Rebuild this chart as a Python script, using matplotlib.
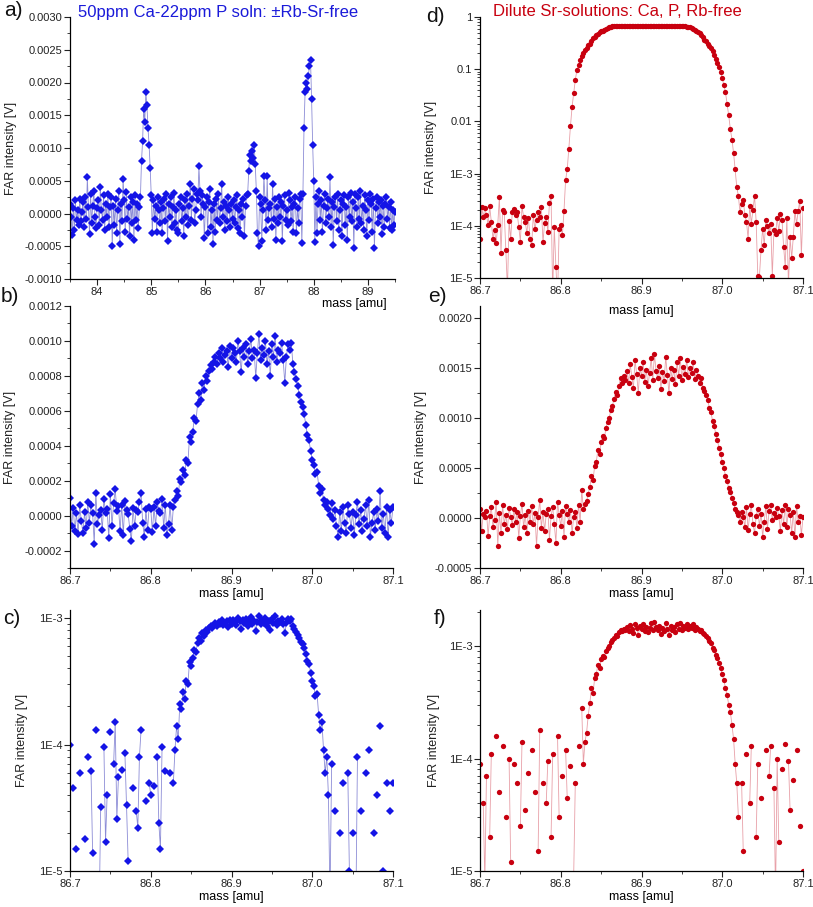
import numpy as np
import matplotlib
matplotlib.use('Agg')
from matplotlib import pyplot as plt
from matplotlib.ticker import MultipleLocator, FormatStrFormatter, LogLocator, NullFormatter, FuncFormatter

plt.rcParams['font.family'] = ['Liberation Sans', 'DejaVu Sans']

# panel a: wide scan 83.5 - 89.5 amu, step 0.02 amu, FAR intensity in 1e-5 V
scan_a_start, scan_a_step = 83.5, 0.02
scan_a = [
    15, -5, -33, 8, -25, 20, -10, 5, -18, 22,
    -12, 3, 18, -20, 25, -8, 55, 10, -32, 30,
    -15, 12, 35, -5, -22, 8, 20, -18, 40, 5,
    -10, 28, -25, 15, -5, 30, -20, 10, 25, -50,
    12, -18, 22, -30, 5, 35, -46, 15, -12, 53,
    20, -28, 33, -8, 10, -35, 25, -15, 18, -40,
    28, -10, 15, -22, 10, 25, 80, 110, 160, 140,
    185, 165, 130, 105, 70, 28, -30, 20, -8, 12,
    -28, 25, 5, -15, 18, -30, 8, 22, -12, 30,
    -42, 15, -5, 25, -20, 10, 32, -15, 5, -25,
    -30, 15, 25, -12, 8, -35, 20, -5, 30, -18,
    12, 45, -10, 22, 38, -15, 5, 30, 20, 72,
    35, -5, 28, 15, -38, 10, 25, -30, 18, 38,
    -20, 5, -46, 15, -28, 22, -10, 30, -15, 8,
    45, -5, 18, -25, 12, -12, 25, 5, -20, 15,
    -8, 20, -15, 10, 28, -22, 5, -30, 15, -5,
    22, -35, 12, 28, 30, 65, 90, 80, 95, 85,
    105, 75, 35, -30, -50, 25, 15, -42, 5, 58,
    20, -25, 57, -10, 8, 15, -20, 45, -8, 22,
    -40, 10, -15, 25, -5, 18, -42, 12, 28, -10,
    5, -18, 32, 20, -12, 10, -28, 15, 25, -30,
    8, -15, 22, 30, -45, 30, 130, 185, 200, 190,
    210, 225, 235, 175, 105, 50, -43, 25, -30, 15,
    35, -10, 20, -28, 12, 30, -15, 8, 22, -5,
    56, -20, 18, -48, 10, 25, -12, 30, -25, 5,
    20, -35, 15, 28, -18, 10, -40, 25, -5, 32,
    -12, 18, -52, 30, 8, -20, 25, -8, 35, -15,
    12, -25, 28, 5, -35, 20, -10, 30, 15, -28,
    22, -52, 8, 25, -15, 18, -5, 20, -32, 12,
    -20, 15, 25, -8, 10, -22, 18, -25, 5, -18,
    3,
]

# panels b/c (blue) and e/f (red): narrow scans 86.7 - 87.1 amu, step 0.002 amu, in 1e-6 V
scan_narrow_start, scan_narrow_step = 86.7, 0.002
scan_blue = [
    100, -60, 45, -90, 15, -105, 60, -30, -100, 18,
    -70, 80, -40, 62, 14, -160, 130, -50, 4, 32,
    -80, 95, 17, 40, -130, 125, -60, 70, 150, 26,
    55, -90, 63, -110, 85, 33, 12, -75, -145, 45,
    -60, 30, 22, 80, 130, -40, -120, 36, -85, 50,
    40, -95, 47, -60, 80, 24, 15, 96, -70, 62,
    -110, -50, 60, -80, 50, 90, 140, 110, 210, 190,
    260, 230, 320, 300, 450, 420, 480, 560, 540, 640,
    700, 660, 760, 720, 800, 770, 830, 860, 840, 880,
    910, 870, 930, 900, 960, 880, 920, 940, 850, 970,
    900, 960, 930, 880, 1000, 940, 820, 960, 910, 980,
    870, 940, 1010, 900, 950, 790, 930, 1040, 890, 960,
    920, 1000, 870, 940, 800, 980, 910, 1030, 880, 950,
    930, 990, 890, 760, 910, 980, 950, 990, 870, 820,
    780, 740, 690, 650, 620, 580, 520, 460, 430, 370,
    320, 290, 240, 250, 170, 130, 150, 90, 60, 80,
    40, 6, 70, -20, 30, -60, -120, 20, -90, 50,
    -40, -100, 60, 10, -70, 20, -110, 5, 80, -50,
    30, -90, -20, 60, -60, 90, -120, -40, 20, -80,
    40, -30, 140, -70, 10, -100, 50, -120, 30, -40,
    50,
]
scan_red = [
    90, -130, 40, 8, 70, -180, 20, 110, -90, -20,
    160, -280, 50, -150, 130, -60, 30, -110, 100, 12,
    -70, 90, -40, 60, -200, 25, 140, -90, 35, -150,
    75, -40, 120, -60, 50, -280, 15, 180, -100, 60,
    -130, 40, 95, -220, 20, 110, -60, -250, 160, 30,
    -80, 70, -190, 120, 45, -40, 85, -150, 9, 60,
    -100, 130, -40, 280, 90, 140, 170, 240, 310, 420,
    380, 520, 560, 680, 640, 760, 820, 800, 900, 960,
    1000, 1080, 1120, 1190, 1260, 1230, 1320, 1400, 1350, 1420,
    1380, 1470, 1350, 1540, 1410, 1300, 1580, 1440, 1250, 1500,
    1420, 1560, 1360, 1480, 1320, 1450, 1600, 1380, 1640, 1470,
    1400, 1520, 1290, 1460, 1370, 1610, 1430, 1250, 1500, 1390,
    1480, 1340, 1560, 1420, 1600, 1380, 1510, 1440, 1580, 1410,
    1500, 1450, 1560, 1390, 1480, 1420, 1350, 1400, 1300, 1270,
    1230, 1180, 1100, 1060, 970, 920, 840, 780, 700, 640,
    560, 500, 420, 370, 300, 260, 200, 150, 90, 60,
    30, -40, 60, 15, -90, 110, -120, 40, 130, -60,
    -150, 20, 90, -80, 45, -190, -40, 120, -110, 70,
    130, -20, 55, 6, 100, 18, -130, 80, -60, 135,
    -90, 95, 35, -150, 65, -190, 120, -40, 25, -170,
    10,
]

# panel d: dilute Sr solution, same narrow scan, in V
scan_d = [
    5.6e-5, 2.3e-4, 1.5e-4, 2.2e-4, 1.6e-4, 1.05e-4, 2.35e-4, 1.2e-4, 5.7e-5, 8.3e-5,
    4.6e-5, 1.05e-4, 3.6e-4, 3.0e-5, 2.0e-4, 1.85e-4, 3.4e-5, 6e-6, 1.25e-4, 5.6e-5,
    1.85e-4, 2.1e-4, 1.6e-4, 1.8e-4, 9.6e-5, 5.0e-5, 2.35e-4, 1.5e-4, 1.2e-4, 7.3e-5,
    1.4e-4, 5.5e-5, 4.3e-5, 1.6e-4, 8.6e-5, 1.3e-4, 1.85e-4, 1.5e-4, 2.3e-4, 4.8e-5,
    1.15e-4, 1.5e-4, 7.7e-5, 2.7e-4, 3.7e-4, 5e-6, 9.5e-5, 1.6e-5, 4e-6, 8.6e-5,
    1.05e-4, 6.6e-5, 1.9e-4, 7.5e-4, 1.2e-3, 3.0e-3, 8.0e-3, 1.9e-2, 3.5e-2, 6.2e-2,
    0.096, 0.12, 0.15, 0.18, 0.2, 0.23, 0.26, 0.29, 0.31, 0.35,
    0.39, 0.42, 0.45, 0.48, 0.51, 0.53, 0.55, 0.57, 0.59, 0.62,
    0.64, 0.65, 0.66, 0.665, 0.67, 0.672, 0.668, 0.674, 0.67, 0.676,
    0.671, 0.675, 0.669, 0.673, 0.677, 0.67, 0.674, 0.672, 0.676, 0.671,
    0.674, 0.678, 0.672, 0.675, 0.67, 0.676, 0.673, 0.677, 0.671, 0.675,
    0.672, 0.676, 0.674, 0.67, 0.677, 0.673, 0.675, 0.671, 0.674, 0.676,
    0.673, 0.67, 0.675, 0.672, 0.668, 0.671, 0.665, 0.66, 0.655, 0.645,
    0.63, 0.61, 0.59, 0.57, 0.55, 0.52, 0.49, 0.45, 0.41, 0.37,
    0.34, 0.31, 0.28, 0.25, 0.22, 0.19, 0.16, 0.13, 0.11, 0.088,
    0.068, 0.05, 0.036, 0.022, 0.013, 0.0072, 0.0045, 0.0025, 0.0012, 5.5e-4,
    3.7e-4, 1.8e-4, 2.6e-4, 3.1e-4, 1.6e-4, 1.2e-4, 5.7e-5, 2.4e-4, 1.1e-4, 2.0e-4,
    3.7e-4, 1.2e-4, 1.1e-5, 1.05e-5, 3.4e-5, 8.8e-5, 4.3e-5, 1.3e-4, 1.0e-4, 7.3e-5,
    1.1e-4, 1.1e-5, 8.3e-5, 7.1e-5, 1.4e-4, 8.0e-5, 1.7e-4, 1.3e-4, 4.0e-5, 1.65e-5,
    1.4e-4, 7e-6, 6.0e-5, 2.4e-5, 6.2e-5, 1.9e-4, 1.1e-4, 1.9e-4, 3.0e-4, 2.7e-5,
    2.2e-4,
]

title_left = '50ppm Ca-22ppm P soln: \u00b1Rb-Sr-free'
title_right = 'Dilute Sr-solutions: Ca, P, Rb-free'

BLUE, BLUE_LINE = '#1414e6', '#8c8cd6'
RED, RED_LINE = '#c8000f', '#e8a0a8'

a_mass = scan_a_start + scan_a_step * np.arange(len(scan_a))
a_int = np.array(scan_a) * 1e-5
n_mass = scan_narrow_start + scan_narrow_step * np.arange(len(scan_blue))
blue_int = np.array(scan_blue) * 1e-6
red_int = np.array(scan_red) * 1e-6
d_int = np.array(scan_d)

W, H = 813, 907
fig = plt.figure(figsize=(W / 100, H / 100), dpi=100)


def add_ax(left, top, right, bottom):
    # pixel box -> figure fraction, transparent so labels of the panel above stay visible
    ax = fig.add_axes([left / W, 1 - bottom / H, (right - left) / W, (bottom - top) / H])
    ax.patch.set_visible(False)
    return ax


def style(ax, ylab_x):
    for s in ['top', 'right']:
        ax.spines[s].set_visible(False)
    for s in ['left', 'bottom']:
        ax.spines[s].set_linewidth(0.9)
    ax.tick_params(which='both', direction='out', labelsize=8, colors='#222222', pad=1.5)
    ax.tick_params(which='major', length=4, width=0.8)
    ax.tick_params(which='minor', length=2.5, width=0.6)
    ax.set_ylabel('FAR intensity [V]', fontsize=9, color='#222222')
    ax.yaxis.set_label_coords(ylab_x, 0.5)


def narrow_x(ax):
    ax.set_xlim(86.7, 87.1)
    ax.xaxis.set_major_locator(MultipleLocator(0.1))
    ax.xaxis.set_minor_locator(MultipleLocator(0.05))
    ax.xaxis.set_major_formatter(FormatStrFormatter('%.1f'))


def log_label(v, pos):
    if v >= 0.01:
        return '%g' % v
    return '1E%d' % round(np.log10(v))


def log_y(ax, lo, hi):
    ax.set_yscale('log', nonpositive='mask')
    ax.set_ylim(lo, hi)
    ax.yaxis.set_major_locator(LogLocator(base=10))
    ax.yaxis.set_minor_locator(LogLocator(base=10, subs=np.arange(2, 10)))
    ax.yaxis.set_major_formatter(FuncFormatter(log_label))
    ax.yaxis.set_minor_formatter(NullFormatter())


def draw(ax, x, y, color, line, marker, ms):
    ax.plot(x, y, color=line, lw=0.6, marker=marker, ms=ms, mfc=color, mec=color, mew=0)


# a) wide scan
ax = add_ax(70, 17, 395, 279)
draw(ax, a_mass, a_int, BLUE, BLUE_LINE, 'D', 4.5)
ax.set_xlim(83.5, 89.5)
ax.set_ylim(-0.001, 0.003)
ax.xaxis.set_major_locator(MultipleLocator(1))
ax.xaxis.set_minor_locator(MultipleLocator(0.5))
ax.yaxis.set_major_locator(MultipleLocator(0.0005))
ax.yaxis.set_minor_locator(MultipleLocator(0.00025))
ax.yaxis.set_major_formatter(FormatStrFormatter('%.4f'))
style(ax, -0.163)
ax.set_xlabel('mass [amu]', fontsize=9, loc='right')
ax.xaxis.set_label_coords(0.975, -0.072)

# b) blue narrow scan, linear
ax = add_ax(70, 306, 393, 568)
draw(ax, n_mass, blue_int, BLUE, BLUE_LINE, 'D', 4.5)
narrow_x(ax)
ax.set_ylim(-0.0003, 0.0012)
ax.yaxis.set_major_locator(MultipleLocator(0.0002))
ax.yaxis.set_minor_locator(MultipleLocator(0.0001))
ax.yaxis.set_major_formatter(FormatStrFormatter('%.4f'))
style(ax, -0.168)
ax.set_xlabel('mass [amu]', fontsize=9, labelpad=2)

# c) blue narrow scan, log
ax = add_ax(70, 610, 393, 871)
draw(ax, n_mass, blue_int, BLUE, BLUE_LINE, 'D', 4.5)
narrow_x(ax)
log_y(ax, 1e-5, 1.157e-3)
style(ax, -0.13)
ax.set_xlabel('mass [amu]', fontsize=9, labelpad=2)

# d) dilute Sr, log
ax = add_ax(480, 17, 803, 278)
draw(ax, n_mass, d_int, RED, RED_LINE, 'o', 3.8)
narrow_x(ax)
log_y(ax, 1e-5, 1.0)
style(ax, -0.133)
ax.set_xlabel('mass [amu]', fontsize=9)
ax.xaxis.set_label_coords(0.5, -0.105)

# e) red narrow scan, linear
ax = add_ax(480, 306, 803, 568)
draw(ax, n_mass, red_int, RED, RED_LINE, 'o', 3.8)
narrow_x(ax)
ax.set_ylim(-0.0005, 0.00212)
ax.yaxis.set_major_locator(MultipleLocator(0.0005))
ax.yaxis.set_minor_locator(MultipleLocator(0.00025))
ax.yaxis.set_major_formatter(FormatStrFormatter('%.4f'))
style(ax, -0.164)
ax.set_xlabel('mass [amu]', fontsize=9, labelpad=2)

# f) red narrow scan, log
ax = add_ax(480, 610, 803, 871)
draw(ax, n_mass, red_int, RED, RED_LINE, 'o', 3.8)
narrow_x(ax)
log_y(ax, 1e-5, 2.09e-3)
style(ax, -0.124)
ax.set_xlabel('mass [amu]', fontsize=9, labelpad=2)

# titles and panel letters
fig.text(78 / W, 1 - 12 / H, title_left, color='#1a1ad9', fontsize=12, va='center', ha='left')
fig.text(493 / W, 1 - 12 / H, title_right, color='#c8000f', fontsize=12, va='center', ha='left')
for lab, px, py in [('a)', 13, 10), ('b)', 10, 296), ('c)', 12, 618),
                    ('d)', 435, 17), ('e)', 437, 297), ('f)', 440, 618)]:
    fig.text(px / W, 1 - py / H, lab, fontsize=15, ha='center', va='center', color='#111111')

fig.savefig('out.png', dpi=100)
